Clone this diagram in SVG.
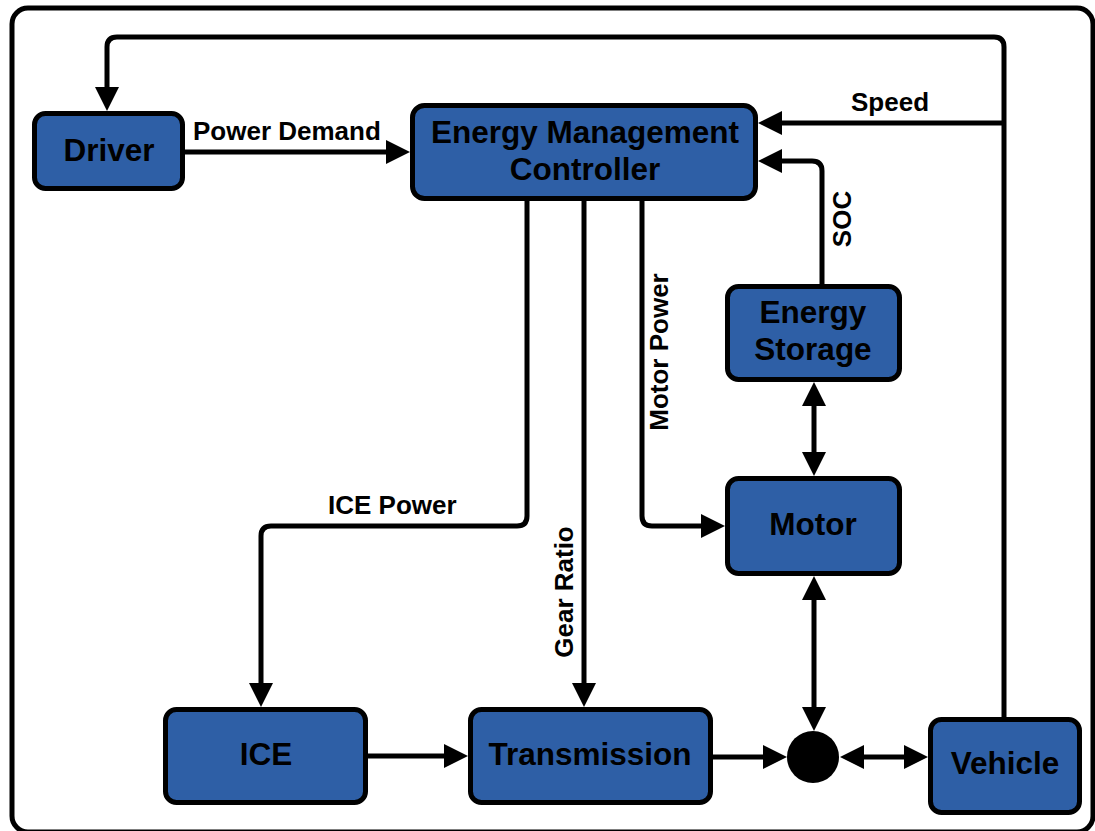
<svg xmlns="http://www.w3.org/2000/svg" width="1095" height="831" viewBox="0 0 1095 831">
  <style>
    .node rect { fill: #2e5fa6; stroke: #000; stroke-width: 5; }
    .node text { font-family: "Liberation Sans", Arial, sans-serif; font-weight: bold; font-size: 31.5px; fill: #000; text-anchor: middle; }
    .wire { fill: none; stroke: #000; stroke-width: 5; }
    .lbl { font-family: "Liberation Sans", Arial, sans-serif; font-weight: bold; font-size: 26px; fill: #000; }
  </style>
  <defs>
    <marker id="head" markerUnits="userSpaceOnUse" markerWidth="24" markerHeight="24" refX="12" refY="12" orient="auto-start-reverse" viewBox="0 0 24 24">
      <path d="M0,0 L24,12 L0,24 Z" fill="#000"/>
    </marker>
  </defs>

  <rect x="0" y="0" width="1095" height="831" fill="#fff"/>
  <!-- frame -->
  <rect x="12" y="8" width="1081" height="824" rx="16" fill="none" stroke="#000" stroke-width="5"/>

  <g id="connectors">
    <!-- vehicle speed fed back to driver -->
    <path class="wire" d="M1004,717 V47 Q1004,37 994,37 H117 Q107,37 107,47 V99" marker-end="url(#head)"/>
    <!-- speed to controller -->
    <path class="wire" d="M1004,123 H770" marker-end="url(#head)"/>
    <!-- SOC -->
    <path class="wire" d="M822,284 V171 Q822,161 812,161 H770" marker-end="url(#head)"/>
    <!-- power demand -->
    <path class="wire" d="M185,152 H398" marker-end="url(#head)"/>
    <!-- ICE power -->
    <path class="wire" d="M527,201 V516 Q527,526 517,526 H271 Q261,526 261,536 V695" marker-end="url(#head)"/>
    <!-- gear ratio -->
    <path class="wire" d="M584,201 V695" marker-end="url(#head)"/>
    <!-- motor power -->
    <path class="wire" d="M642,201 V516 Q642,526 652,526 H713" marker-end="url(#head)"/>
    <!-- storage <-> motor -->
    <path class="wire" d="M814,394 V464" marker-start="url(#head)" marker-end="url(#head)"/>
    <!-- motor <-> junction -->
    <path class="wire" d="M814,588 V719" marker-start="url(#head)" marker-end="url(#head)"/>
    <!-- ICE -> transmission -->
    <path class="wire" d="M368,756 H456" marker-end="url(#head)"/>
    <!-- transmission -> junction -->
    <path class="wire" d="M713,757 H775" marker-end="url(#head)"/>
    <!-- junction <-> vehicle -->
    <path class="wire" d="M852,757 H916" marker-start="url(#head)" marker-end="url(#head)"/>
    <circle id="junction" cx="813" cy="757" r="26" fill="#000"/>

    <text class="lbl" x="193" y="140">Power Demand</text>
    <text class="lbl" x="851" y="111">Speed</text>
    <text class="lbl" x="328" y="514">ICE Power</text>
    <text class="lbl" text-anchor="middle" transform="translate(851,219) rotate(-90)">SOC</text>
    <text class="lbl" text-anchor="middle" transform="translate(668,352) rotate(-90)">Motor Power</text>
    <text class="lbl" text-anchor="middle" transform="translate(573,592) rotate(-90)">Gear Ratio</text>
  </g>

  <g id="driver" class="node">
    <rect x="34.5" y="113.5" width="148" height="75" rx="11"/>
    <text x="109" y="161">Driver</text>
  </g>
  <g id="emc" class="node">
    <rect x="412.5" y="105.5" width="343" height="93" rx="12"/>
    <text x="585" y="143">Energy Management</text>
    <text x="585" y="180">Controller</text>
  </g>
  <g id="energy-storage" class="node">
    <rect x="727.5" y="286.5" width="172" height="93" rx="11"/>
    <text x="813" y="323">Energy</text>
    <text x="813" y="360">Storage</text>
  </g>
  <g id="motor" class="node">
    <rect x="727.5" y="478.5" width="172" height="95" rx="11"/>
    <text x="813" y="535">Motor</text>
  </g>
  <g id="ice" class="node">
    <rect x="165.5" y="709.5" width="200" height="93" rx="11"/>
    <text x="266" y="765">ICE</text>
  </g>
  <g id="transmission" class="node">
    <rect x="470.5" y="709.5" width="240" height="93" rx="11"/>
    <text x="590" y="765">Transmission</text>
  </g>
  <g id="vehicle" class="node">
    <rect x="930.5" y="719.5" width="149" height="93" rx="11"/>
    <text x="1005" y="774">Vehicle</text>
  </g>
</svg>
